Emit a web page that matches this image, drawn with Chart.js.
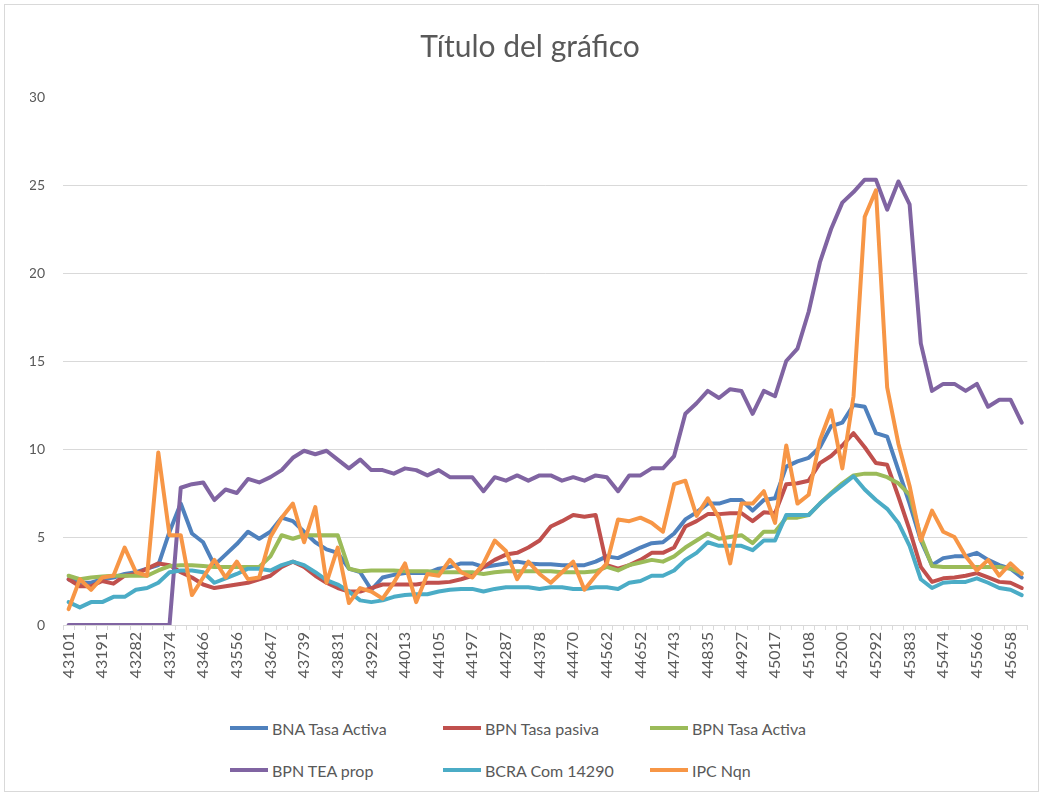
<!DOCTYPE html>
<html lang="es">
<head>
  <meta charset="UTF-8" />
  <title>Título del gráfico</title>
  <script src="https://cdn.jsdelivr.net/npm/chart.js"></script>
  <style>
    body {
      margin: 0;
      background: #fff;
      font-family: Lato, "Open Sans", sans-serif;
    }

    #frame {
      position: relative;
      width: 1043px;
      height: 796px;
      overflow: hidden;
      background: #fff;
    }

    #border {
      position: absolute;
      left: 4px;
      top: 4px;
      right: 4px;
      bottom: 4px;
      border: 1px solid #d9d9d9;
    }

    #chart {
      position: absolute;
      left: 0;
      top: 0;
    }

    .item {
      position: absolute;
      height: 20px;
      display: flex;
      align-items: center;
      font-size: 16px;
      color: #595959;
      white-space: nowrap;
    }

    .swatch {
      width: 38px;
      height: 4px;
      margin-right: 4px;
    }
  </style>
</head>
<body>
  <div id="frame">
    <div id="border"></div>
    <canvas id="chart" width="1043" height="700"></canvas>
    <div id="legend"></div>
  </div>

  <script>
    // Excel date serials, one per month (Jan 2018 - Feb 2025)
    const labels = [
      43101, 43132, 43160, 43191, 43221, 43252, 43282, 43313, 43344, 43374, 43405, 43435,
      43466, 43497, 43525, 43556, 43586, 43617, 43647, 43678, 43709, 43739, 43770, 43800,
      43831, 43862, 43891, 43922, 43952, 43983, 44013, 44044, 44075, 44105, 44136, 44166,
      44197, 44228, 44256, 44287, 44317, 44348, 44378, 44409, 44440, 44470, 44501, 44531,
      44562, 44593, 44621, 44652, 44682, 44713, 44743, 44774, 44805, 44835, 44866, 44896,
      44927, 44958, 44986, 45017, 45047, 45078, 45108, 45139, 45170, 45200, 45231, 45261,
      45292, 45323, 45352, 45383, 45413, 45444, 45474, 45505, 45536, 45566, 45597, 45627,
      45658, 45689
    ];

    const bnaActiva = [
      2.6, 2.4, 2.4, 2.6, 2.7, 2.9, 3.0, 3.2, 3.4, 5.3, 6.9, 5.2,
      4.7, 3.4, 4.0, 4.6, 5.3, 4.9, 5.3, 6.1, 5.9, 5.3, 4.7, 4.3,
      4.1, 3.2, 3.0, 2.0, 2.7, 2.85, 2.95, 2.95, 2.95, 3.2, 3.3, 3.5,
      3.5, 3.3, 3.4, 3.5, 3.6, 3.5, 3.45, 3.45, 3.4, 3.4, 3.4, 3.6,
      3.9, 3.8, 4.1, 4.4, 4.65, 4.7, 5.2, 6.0, 6.4, 6.9, 6.9, 7.1,
      7.1, 6.5, 7.1, 7.2, 9.0, 9.3, 9.5, 10.1, 11.3, 11.5, 12.5, 12.4,
      10.9, 10.7, 8.8, 6.9, 4.8, 3.4, 3.8, 3.9, 3.9, 4.1, 3.7, 3.4,
      3.2, 2.7
    ];

    const bpnPasiva = [
      2.6, 2.2, 2.2, 2.5, 2.35, 2.8, 2.9, 3.2, 3.5, 3.4, 3.0, 2.7,
      2.3, 2.1, 2.2, 2.3, 2.4, 2.6, 2.8, 3.3, 3.6, 3.3, 2.8, 2.4,
      2.1, 1.9, 1.9, 2.1, 2.3, 2.3, 2.3, 2.3, 2.4, 2.4, 2.45, 2.6,
      2.8, 3.3, 3.7, 4.0, 4.1, 4.4, 4.8, 5.6, 5.9, 6.25, 6.15, 6.25,
      3.4, 3.2, 3.4, 3.7, 4.1, 4.1, 4.4, 5.6, 5.9, 6.3, 6.3, 6.35,
      6.35, 5.9, 6.4, 6.35, 8.0, 8.05, 8.2, 9.2, 9.6, 10.2, 10.9, 10.1,
      9.2, 9.1, 7.3, 5.4, 3.3, 2.45, 2.65, 2.7, 2.8, 2.95, 2.7, 2.45,
      2.4, 2.1
    ];

    const bpnActiva = [
      2.8, 2.6, 2.7, 2.75, 2.8, 2.8, 2.8, 2.8, 3.1, 3.35, 3.4, 3.4,
      3.35, 3.3, 3.3, 3.3, 3.3, 3.3, 3.9, 5.1, 4.9, 5.1, 5.1, 5.1,
      5.1, 3.2, 3.05, 3.1, 3.1, 3.1, 3.05, 3.05, 3.05, 3.0, 3.0, 3.0,
      3.0, 2.9, 3.0, 3.05, 3.05, 3.05, 3.05, 3.05, 3.0, 3.0, 3.0, 3.05,
      3.3, 3.1, 3.4, 3.55, 3.7, 3.6, 3.9, 4.4, 4.8, 5.2, 4.9, 5.0,
      5.1, 4.65, 5.3, 5.3, 6.1, 6.1, 6.25, 6.9, 7.5, 8.05, 8.5, 8.6,
      8.6, 8.4, 8.05, 7.4, 5.0, 3.35, 3.3, 3.3, 3.3, 3.3, 3.3, 3.3,
      3.2, 2.95
    ];

    const bpnTeaProp = [
      0, 0, 0, 0, 0, 0, 0, 0, 0, 0, 7.8, 8.0,
      8.1, 7.1, 7.7, 7.5, 8.3, 8.1, 8.4, 8.8, 9.5, 9.9, 9.7, 9.9,
      9.4, 8.9, 9.4, 8.8, 8.8, 8.6, 8.9, 8.8, 8.5, 8.8, 8.4, 8.4,
      8.4, 7.6, 8.4, 8.2, 8.5, 8.2, 8.5, 8.5, 8.2, 8.4, 8.2, 8.5,
      8.4, 7.6, 8.5, 8.5, 8.9, 8.9, 9.6, 12.0, 12.6, 13.3, 12.9, 13.4,
      13.3, 12.0, 13.3, 13.0, 15.0, 15.7, 17.8, 20.6, 22.5, 24.0, 24.6, 25.3,
      25.3, 23.6, 25.2, 23.9, 16.0, 13.3, 13.7, 13.7, 13.3, 13.7, 12.4, 12.8,
      12.8, 11.5
    ];

    const bcraCom = [
      1.3, 1.0, 1.3, 1.3, 1.6, 1.6, 2.0, 2.1, 2.4, 3.0, 3.1, 3.1,
      3.0, 2.4, 2.65, 2.9, 3.2, 3.2, 3.1, 3.4, 3.6, 3.4, 3.0, 2.55,
      2.3, 1.9, 1.4, 1.3, 1.4, 1.6, 1.7, 1.75, 1.75, 1.9, 2.0, 2.05,
      2.05, 1.9, 2.05, 2.15, 2.15, 2.15, 2.05, 2.15, 2.15, 2.05, 2.05, 2.15,
      2.15, 2.05, 2.4, 2.5, 2.8, 2.8, 3.1, 3.7, 4.1, 4.7, 4.5, 4.5,
      4.5, 4.25, 4.8, 4.8, 6.25, 6.25, 6.25, 6.9, 7.45, 7.95, 8.45, 7.7,
      7.1, 6.6, 5.8, 4.5, 2.6, 2.1, 2.4, 2.45, 2.45, 2.65, 2.4, 2.1,
      2.0, 1.7
    ];

    const ipcNqn = [
      0.9, 2.6, 2.0, 2.7, 2.8, 4.4, 3.0, 2.8, 9.8, 5.1, 5.1, 1.7,
      2.7, 3.7, 2.7, 3.6, 2.6, 2.7, 5.0, 6.1, 6.9, 4.7, 6.7, 2.4,
      4.4, 1.25, 2.1, 1.9, 1.5, 2.4, 3.5, 1.3, 2.9, 2.8, 3.7, 3.0,
      2.7, 3.5, 4.8, 4.2, 2.6, 3.6, 2.9, 2.4, 3.0, 3.6, 2.0, 2.8,
      3.5, 6.0, 5.9, 6.1, 5.8, 5.3, 8.0, 8.2, 6.2, 7.2, 6.1, 3.5,
      6.9, 6.9, 7.6, 5.8, 10.2, 6.9, 7.4, 10.5, 12.2, 8.9, 13.0, 23.2,
      24.7, 13.5, 10.3, 7.9, 4.8, 6.5, 5.3, 5.0, 3.9, 3.1, 3.7, 2.8,
      3.5, 2.9
    ];

    const seriesNames = ['BNA Tasa Activa', 'BPN Tasa pasiva', 'BPN Tasa Activa', 'BPN TEA prop', 'BCRA Com 14290', 'IPC Nqn'];
    const seriesData = [bnaActiva, bpnPasiva, bpnActiva, bpnTeaProp, bcraCom, ipcNqn];
    const seriesColors = ['#4F81BD', '#C0504D', '#9BBB59', '#8064A2', '#4BACC6', '#F79646'];

    const gray = '#595959';
    const gridGray = '#d9d9d9';

    const datasets = seriesNames.map((name, i) => ({
      label: name,
      data: seriesData[i],
      borderColor: seriesColors[i],
      backgroundColor: seriesColors[i],
      borderWidth: 4,
      pointRadius: 0,
      tension: 0,
      borderJoinStyle: 'round',
      borderCapStyle: 'round',
      order: seriesNames.length - i // Excel draws the last series on top
    }));

    new Chart(document.getElementById('chart'), {
      type: 'line',
      data: { labels: labels, datasets: datasets },
      options: {
        responsive: false,
        animation: false,
        // left padding + y axis width = plot left edge at 63px
        layout: { padding: { left: 30, right: 13, top: 0, bottom: 0 } },
        scales: {
          x: {
            offset: true,
            border: { color: gridGray, width: 1 },
            grid: {
              drawOnChartArea: false,
              drawTicks: true,
              tickLength: 5,
              color: gridGray,
              offset: true
            },
            ticks: {
              autoSkip: false,
              minRotation: 90,
              maxRotation: 90,
              padding: 2,
              color: gray,
              font: { family: 'Lato', size: 16 },
              callback: (v, i) => (i % 3 === 0 ? String(labels[i]) : '')
            },
            afterFit: (s) => { s.height = 75; }
          },
          y: {
            min: 0,
            max: 30,
            border: { display: false },
            grid: {
              drawTicks: false,
              color: (ctx) => (ctx.tick && ctx.tick.value === 30 ? 'rgba(0,0,0,0)' : gridGray)
            },
            ticks: {
              stepSize: 5,
              padding: 18,
              color: gray,
              font: { family: 'Lato', size: 14 }
            },
            afterFit: (s) => { s.width = 33; }
          }
        },
        plugins: {
          legend: { display: false },
          tooltip: { enabled: false },
          title: {
            display: true,
            text: 'Título del gráfico',
            color: gray,
            font: { family: 'Lato', size: 30, weight: 'normal' },
            padding: { top: 29, bottom: 32 }
          }
        }
      }
    });

    // legend in three columns, two rows, like the Excel one
    const legendCols = [230, 443, 650];
    const legendRows = [728, 770];
    const legend = document.getElementById('legend');
    seriesNames.forEach((name, i) => {
      const item = document.createElement('div');
      item.className = 'item';
      item.style.left = legendCols[i % 3] + 'px';
      item.style.top = (legendRows[Math.floor(i / 3)] - 10) + 'px';
      const sw = document.createElement('span');
      sw.className = 'swatch';
      sw.style.background = seriesColors[i];
      const txt = document.createElement('span');
      txt.textContent = name;
      item.appendChild(sw);
      item.appendChild(txt);
      legend.appendChild(item);
    });
  </script>
</body>
</html>
